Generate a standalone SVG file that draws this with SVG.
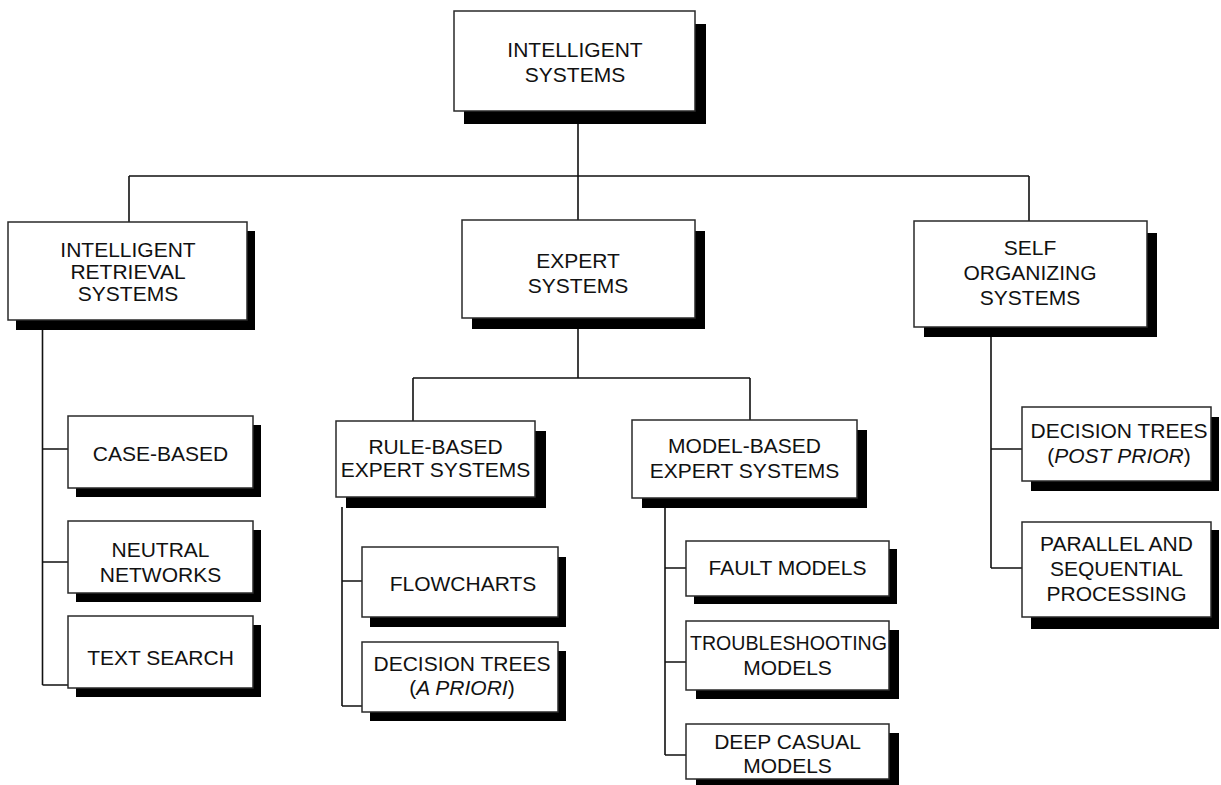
<svg xmlns="http://www.w3.org/2000/svg" width="1221" height="785" viewBox="0 0 1221 785">
  <style>
    .box { fill: #ffffff; stroke: #2a2a2a; stroke-width: 1.5; }
    .shadow { fill: #000000; }
    .lbl { font-family: "Liberation Sans", Arial, sans-serif; font-size: 21px; fill: #111111; text-anchor: middle; }
    .it { font-style: italic; }
    .wire { fill: none; stroke: #111111; stroke-width: 1.6; }
  </style>
  <rect width="1221" height="785" fill="#ffffff"/>

  <!-- connectors -->
  <g id="connectors" class="wire">
    <!-- root to first level -->
    <path d="M578 124 V176 M129 176 H1029 M129 176 V222 M578 176 V220 M1029 176 V221"/>
    <!-- intelligent retrieval branch -->
    <path d="M42.5 330 V685 M42.5 449 H68 M42.5 562 H68 M42.5 685 H68"/>
    <!-- expert systems branch -->
    <path d="M578 328 V378 M413 378 H750 M413 378 V421 M750 378 V420"/>
    <!-- rule-based branch -->
    <path d="M342 507 V706 M342 581 H362 M342 706 H362"/>
    <!-- model-based branch -->
    <path d="M665 507 V755 M665 568 H686 M665 662 H686 M665 755 H686"/>
    <!-- self organizing branch -->
    <path d="M991 337 V568 M991 449 H1022 M991 568 H1022"/>
  </g>

  <g id="intelligent-systems">
    <rect class="shadow" x="464" y="24" width="242" height="100"/>
    <rect class="box" x="454" y="11" width="241" height="100"/>
    <text class="lbl" x="575" y="57">INTELLIGENT</text>
    <text class="lbl" x="575" y="82">SYSTEMS</text>
  </g>

  <g id="intelligent-retrieval">
    <rect class="shadow" x="16" y="231" width="239" height="99"/>
    <rect class="box" x="8" y="222" width="239" height="98"/>
    <text class="lbl" x="128" y="257">INTELLIGENT</text>
    <text class="lbl" x="128" y="279">RETRIEVAL</text>
    <text class="lbl" x="128" y="301">SYSTEMS</text>
  </g>

  <g id="expert-systems">
    <rect class="shadow" x="472" y="231" width="233" height="98"/>
    <rect class="box" x="462" y="220" width="233" height="98"/>
    <text class="lbl" x="578" y="268">EXPERT</text>
    <text class="lbl" x="578" y="293">SYSTEMS</text>
  </g>

  <g id="self-organizing">
    <rect class="shadow" x="924" y="233" width="233" height="104"/>
    <rect class="box" x="914" y="221" width="233" height="106"/>
    <text class="lbl" x="1030" y="255">SELF</text>
    <text class="lbl" x="1030" y="280">ORGANIZING</text>
    <text class="lbl" x="1030" y="305">SYSTEMS</text>
  </g>

  <g id="case-based">
    <rect class="shadow" x="76" y="425" width="185" height="72"/>
    <rect class="box" x="68" y="416" width="185" height="72"/>
    <text class="lbl" x="160.5" y="461">CASE-BASED</text>
  </g>

  <g id="neutral-networks">
    <rect class="shadow" x="76" y="530" width="185" height="72"/>
    <rect class="box" x="68" y="521" width="185" height="72"/>
    <text class="lbl" x="160.5" y="557">NEUTRAL</text>
    <text class="lbl" x="160.5" y="582">NETWORKS</text>
  </g>

  <g id="text-search">
    <rect class="shadow" x="76" y="625" width="185" height="72"/>
    <rect class="box" x="68" y="616" width="185" height="72"/>
    <text class="lbl" x="160.5" y="665">TEXT SEARCH</text>
  </g>

  <g id="rule-based">
    <rect class="shadow" x="346" y="431" width="200" height="77"/>
    <rect class="box" x="336" y="421" width="199" height="76"/>
    <text class="lbl" x="435.5" y="454">RULE-BASED</text>
    <text class="lbl" x="435.5" y="477">EXPERT SYSTEMS</text>
  </g>

  <g id="model-based">
    <rect class="shadow" x="642" y="430" width="225" height="78"/>
    <rect class="box" x="632" y="420" width="225" height="78"/>
    <text class="lbl" x="744.5" y="453">MODEL-BASED</text>
    <text class="lbl" x="744.5" y="478">EXPERT SYSTEMS</text>
  </g>

  <g id="flowcharts">
    <rect class="shadow" x="370" y="557" width="196" height="70"/>
    <rect class="box" x="362" y="547" width="196" height="70"/>
    <text class="lbl" x="463" y="591">FLOWCHARTS</text>
  </g>

  <g id="decision-trees-a-priori">
    <rect class="shadow" x="370" y="651" width="196" height="70"/>
    <rect class="box" x="362" y="642" width="196" height="70"/>
    <text class="lbl" x="462" y="671">DECISION TREES</text>
    <text class="lbl" x="462" y="695">(<tspan class="it">A PRIORI</tspan>)</text>
  </g>

  <g id="fault-models">
    <rect class="shadow" x="694" y="549" width="203" height="55"/>
    <rect class="box" x="686" y="541" width="203" height="55"/>
    <text class="lbl" x="787.5" y="575">FAULT MODELS</text>
  </g>

  <g id="troubleshooting-models">
    <rect class="shadow" x="696" y="630" width="203" height="69"/>
    <rect class="box" x="686" y="621" width="203" height="69"/>
    <text class="lbl" x="788.5" y="650" textLength="197" lengthAdjust="spacingAndGlyphs">TROUBLESHOOTING</text>
    <text class="lbl" x="787.5" y="675">MODELS</text>
  </g>

  <g id="deep-casual-models">
    <rect class="shadow" x="696" y="733" width="203" height="55"/>
    <rect class="box" x="686" y="724" width="203" height="55"/>
    <text class="lbl" x="787.5" y="749">DEEP CASUAL</text>
    <text class="lbl" x="787.5" y="773">MODELS</text>
  </g>

  <g id="decision-trees-post-prior">
    <rect class="shadow" x="1031" y="417" width="188" height="74"/>
    <rect class="box" x="1022" y="407" width="189" height="74"/>
    <text class="lbl" x="1119" y="438">DECISION TREES</text>
    <text class="lbl" x="1119" y="463">(<tspan class="it">POST PRIOR</tspan>)</text>
  </g>

  <g id="parallel-sequential">
    <rect class="shadow" x="1031" y="530" width="188" height="99"/>
    <rect class="box" x="1022" y="522" width="189" height="95"/>
    <text class="lbl" x="1116.5" y="551">PARALLEL AND</text>
    <text class="lbl" x="1116.5" y="576">SEQUENTIAL</text>
    <text class="lbl" x="1116.5" y="601">PROCESSING</text>
  </g>
</svg>
